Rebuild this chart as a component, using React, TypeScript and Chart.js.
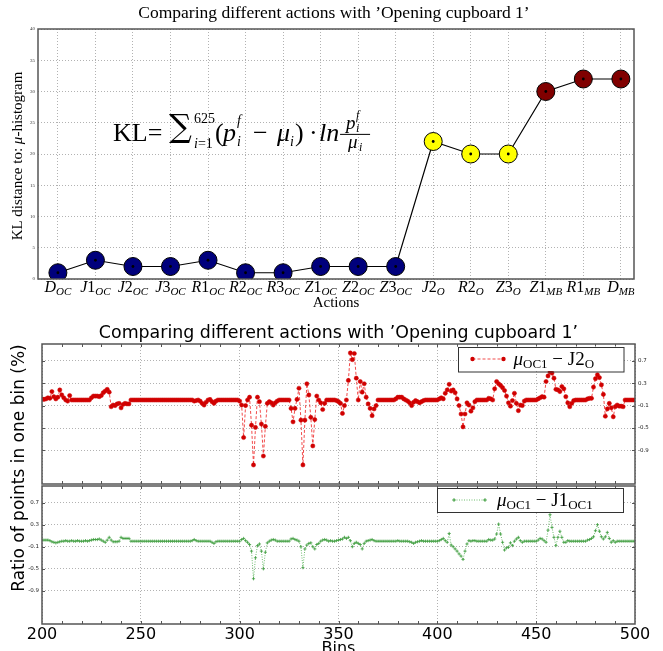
import React, { useEffect, useRef } from "react";
import { Chart, registerables } from "chart.js";
Chart.register(...registerables);

const SERIF = '"Liberation Serif", "DejaVu Serif", serif';
const SANS = '"DejaVu Sans", "Liberation Sans", sans-serif';

// ---------- top chart data ----------
const ACTION_NAMES = ["D", "J1", "J2", "J3", "R1", "R2", "R3", "Z1", "Z2", "Z3", "J2", "R2", "Z3", "Z1", "R1", "D"];
const ACTION_SUBS = ["OC", "OC", "OC", "OC", "OC", "OC", "OC", "OC", "OC", "OC", "O", "O", "O", "MB", "MB", "MB"];
const KL_VALUES = [1, 3, 2, 2, 3, 1, 1, 2, 2, 2, 22, 20, 20, 30, 32, 32];
const GROUP_COLORS: Record<string, string> = { OC: "#00007c", O: "#ffff00", MB: "#800000" };
const KL_MIN = 0;
const KL_MAX = 40;
const KL_STEP = 5;

// ---------- bottom charts data (bins 200..500) ----------
const BIN_FIRST = 200;
const BIN_TICKS = [200, 250, 300, 350, 400, 450, 500];
const RATIO_TICKS = [0.7, 0.3, -0.1, -0.5, -0.9];
const RATIO_MIN = -1.5;
const RATIO_MAX = 1.0;

const DIFF_J2O = [
  0.02, 0.01, 0.02, 0.04, 0.03, 0.15, 0.06, 0.02, 0.05, 0.18,
  0.09, 0.04, 0.0, -0.02, 0.08, 0.0, 0.0, 0.0, 0.0, 0.0,
  0.0, 0.0, 0.0, 0.0, 0.0, 0.04, 0.07, 0.07, 0.07, 0.06,
  0.08, 0.13, 0.16, 0.19, 0.14, -0.12, -0.09, -0.1, -0.07, -0.06,
  -0.14, -0.08, -0.06, -0.07, -0.07, 0.0, 0.0, 0.0, 0.0, 0.0,
  0.0, 0.0, 0.0, 0.0, 0.0, 0.0, 0.0, 0.0, 0.0, 0.0,
  0.0, 0.0, 0.0, 0.0, 0.0, 0.0, 0.0, 0.0, 0.0, 0.0,
  0.0, 0.0, 0.0, 0.0, 0.0, 0.0, 0.0, -0.02, -0.01, 0.0,
  -0.02, -0.06, -0.09, -0.04, 0.0, 0.01, -0.03, -0.06, -0.02, 0.0,
  0.0, 0.0, 0.0, 0.0, 0.0, 0.0, 0.0, 0.0, 0.0, 0.0,
  -0.02, -0.09, -0.67, -0.1, 0.0, 0.05, -0.45, -1.16, -0.49, 0.05,
  -0.03, -0.43, -1.0, -0.47, -0.06, -0.03, -0.05, -0.09, -0.05, -0.02,
  0.0, 0.0, 0.0, 0.0, 0.0, 0.0, -0.15, -0.39, -0.15, 0.01,
  0.21, -0.36, -1.16, -0.36, 0.29, 0.09, -0.31, -0.82, -0.35, 0.07,
  0.0, -0.05, -0.17, -0.06, 0.0, 0.0, 0.0, 0.0, 0.0, -0.01,
  -0.03, -0.06, -0.24, -0.1, 0.0, 0.35, 0.84, 0.72, 0.83, 0.39,
  0.0, 0.33, 0.14, 0.29, 0.05, -0.07, -0.15, -0.28, -0.16, -0.1,
  0.0, 0.0, 0.0, 0.0, 0.0, 0.0, 0.0, 0.0, 0.0, 0.02,
  0.05, 0.05, 0.05, 0.02, 0.0, -0.02, -0.05, -0.1, -0.04, -0.01,
  -0.03, -0.05, -0.03, -0.01, 0.0, 0.0, 0.0, 0.0, 0.0, 0.0,
  0.0, 0.02, 0.04, 0.02, 0.12, 0.18, 0.28, 0.16, 0.18, 0.13,
  0.02, -0.1, -0.25, -0.48, -0.25, -0.05, -0.09, -0.2, -0.14, -0.03,
  0.0, 0.0, 0.0, 0.0, 0.0, 0.0, 0.03, 0.02, 0.0, 0.2,
  0.33, 0.29, 0.26, 0.22, 0.17, 0.07, -0.05, -0.11, -0.01, 0.12,
  -0.06, -0.19, -0.09, -0.1, -0.02, 0.0, 0.0, 0.0, 0.0, 0.0,
  0.0, 0.02, 0.04, 0.06, 0.05, 0.33, 0.43, 0.5, 0.48, 0.39,
  0.19, 0.18, 0.15, 0.24, 0.2, 0.06, -0.05, -0.12, -0.06, -0.01,
  0.0, 0.0, 0.0, 0.0, 0.0, 0.0, 0.02, 0.03, 0.03, 0.23,
  0.38, 0.45, 0.4, 0.27, 0.1, -0.29, -0.16, -0.06, -0.14, -0.3,
  -0.12, -0.09, -0.11, -0.11, -0.12, 0.0, 0.0, 0.0, 0.0, 0.0,
  0.0,
];

const DIFF_J1OC = [
  0.02, 0.02, 0.02, 0.02, 0.01, -0.01, -0.02, -0.03, -0.02, -0.01,
  0.0, 0.0, 0.01, 0.0, 0.0, 0.01, 0.0, 0.0, 0.01, 0.0,
  0.0, 0.0, 0.01, 0.0, 0.01, 0.02, 0.03, 0.03, 0.03, 0.04,
  0.02, 0.0, -0.02, 0.02, 0.07, 0.02, -0.01, -0.01, -0.01, 0.0,
  0.07, 0.05, 0.05, 0.05, 0.05, 0.0, 0.0, 0.0, 0.0, 0.0,
  0.0, 0.0, 0.0, 0.0, 0.0, 0.0, 0.0, 0.0, 0.0, 0.0,
  0.0, 0.0, 0.0, 0.0, 0.0, 0.0, 0.0, 0.0, 0.0, 0.0,
  0.0, 0.0, 0.0, 0.0, 0.0, 0.0, 0.01, 0.03, 0.01, 0.0,
  0.0, 0.0, 0.0, 0.0, 0.0, 0.0, -0.02, -0.04, -0.01, 0.0,
  0.0, 0.0, 0.0, 0.0, 0.0, 0.0, 0.0, 0.0, 0.0, 0.0,
  0.0, 0.03, 0.05, 0.01, -0.02, -0.06, -0.18, -0.68, -0.3, -0.08,
  -0.05, -0.18, -0.5, -0.2, -0.03, 0.0, 0.02, 0.03, 0.02, 0.0,
  0.0, 0.0, 0.0, 0.0, 0.0, 0.0, 0.04, 0.05, 0.03, 0.02,
  0.0, -0.1, -0.48, -0.14, -0.07, -0.04, -0.03, -0.1, -0.14, -0.06,
  -0.04, 0.0, 0.02, 0.03, 0.02, 0.0, 0.01, 0.0, 0.0, 0.01,
  0.02, 0.03, 0.04, 0.07, 0.05, 0.07, 0.01, -0.1, -0.04, -0.02,
  -0.04, -0.06, -0.14, -0.04, 0.0, 0.01, 0.02, 0.03, 0.01, 0.0,
  0.0, 0.0, 0.0, 0.0, 0.0, 0.0, 0.0, 0.0, 0.0, 0.0,
  0.01, 0.0, 0.0, 0.0, 0.0, 0.0, -0.01, -0.02, -0.04, -0.02,
  -0.01, 0.0, 0.01, 0.0, 0.0, 0.0, 0.0, 0.0, 0.0, 0.0,
  0.0, 0.01, 0.03, 0.05, 0.01, -0.02, 0.14, -0.07, -0.1, -0.14,
  -0.18, -0.23, -0.27, -0.33, -0.18, -0.05, 0.01, 0.0, 0.01, 0.01,
  0.0, 0.0, 0.0, 0.0, 0.0, 0.0, 0.03, 0.02, 0.02, 0.04,
  0.13, 0.31, 0.13, -0.02, -0.16, -0.12, -0.11, -0.03, -0.08, 0.0,
  0.04, 0.07, 0.01, -0.02, 0.0, 0.0, 0.0, 0.0, 0.0, 0.0,
  0.0, 0.02, 0.05, 0.04, 0.01, -0.02, 0.2, 0.48, 0.25, 0.07,
  -0.08, 0.07, 0.18, 0.07, -0.02, -0.02, 0.01, 0.0, 0.0, 0.0,
  0.0, 0.0, 0.0, 0.0, 0.0, 0.0, 0.02, 0.03, 0.05, 0.08,
  0.19, 0.3, 0.18, 0.08, 0.04, 0.08, 0.16, 0.05, -0.02, 0.01,
  -0.02, 0.0, 0.0, 0.0, 0.0, 0.0, 0.0, 0.0, 0.0, 0.0,
  0.0,
];

const TITLE = "Comparing different actions with \u2019Opening cupboard 1\u2019";
const RED_LINE = "rgba(238,30,30,0.8)";
const RED_DOT = "#d00000";
const GREEN_LINE = "rgba(60,165,60,0.75)";
const GREEN_DOT = "#3c9c3c";
const GRID = "rgba(0,0,0,0.3)";
const FRAME = "#555";

type Run = { t: string; f: string; dy?: number };

function runsWidth(ctx: CanvasRenderingContext2D, runs: Run[]) {
  let w = 0;
  for (const r of runs) {
    ctx.font = r.f;
    w += ctx.measureText(r.t).width;
  }
  return w;
}
function drawRuns(ctx: CanvasRenderingContext2D, x: number, y: number, runs: Run[]) {
  let cx = x;
  for (const r of runs) {
    ctx.font = r.f;
    ctx.fillText(r.t, cx, y + (r.dy || 0));
    cx += ctx.measureText(r.t).width;
  }
  return cx;
}
function put(ctx: CanvasRenderingContext2D, t: string, f: string, x: number, y: number, align: CanvasTextAlign = "left") {
  ctx.font = f;
  ctx.textAlign = align;
  ctx.fillText(t, x, y);
  ctx.textAlign = "left";
}
function frame(ctx: CanvasRenderingContext2D, a: any) {
  ctx.save();
  ctx.strokeStyle = FRAME;
  ctx.lineWidth = 1.5;
  ctx.strokeRect(a.left, a.top, a.right - a.left, a.bottom - a.top);
  ctx.restore();
}

function drawFormula(ctx: CanvasRenderingContext2D, x0: number, b: number) {
  const big = `26px ${SERIF}`;
  const bigI = `italic 26px ${SERIF}`;
  const sm = `14px ${SERIF}`;
  const smI = `italic 14px ${SERIF}`;
  ctx.fillStyle = "#000";
  ctx.textBaseline = "alphabetic";
  put(ctx, "KL=", big, x0, b);
  put(ctx, "\u2211", `32px "DejaVu Serif", serif`, x0 + 56, b - 4);
  put(ctx, "625", sm, x0 + 81, b - 18);
  drawRuns(ctx, x0 + 81, b + 7, [{ t: "i", f: smI }, { t: "=1", f: sm }]);
  put(ctx, "(", big, x0 + 102, b);
  put(ctx, "p", bigI, x0 + 110, b);
  put(ctx, "f", smI, x0 + 124, b - 16);
  put(ctx, "i", smI, x0 + 124, b + 5);
  put(ctx, "\u2212", big, x0 + 140, b);
  put(ctx, "\u03bc", bigI, x0 + 164, b);
  put(ctx, "i", smI, x0 + 177, b + 5);
  put(ctx, ")", big, x0 + 182, b);
  put(ctx, "\u00b7", big, x0 + 196, b);
  put(ctx, "ln", bigI, x0 + 206, b);
  // fraction
  const fx = x0 + 227;
  const fw = 30;
  const numI = `italic 19px ${SERIF}`;
  const tiny = `italic 12px ${SERIF}`;
  put(ctx, "p", numI, fx + 6, b - 12);
  put(ctx, "f", tiny, fx + 16, b - 22);
  put(ctx, "i", tiny, fx + 16, b - 9);
  ctx.save();
  ctx.strokeStyle = "#000";
  ctx.lineWidth = 1;
  ctx.beginPath();
  ctx.moveTo(fx, b - 6.5);
  ctx.lineTo(fx + fw, b - 6.5);
  ctx.stroke();
  ctx.restore();
  put(ctx, "\u03bc", numI, fx + 8, b + 7);
  put(ctx, "i", tiny, fx + 19, b + 10);
}

const FORMULA_AT = { x: 1.47, y: 22.1 };

function makeTop(canvas: HTMLCanvasElement) {
  const pts = KL_VALUES.map((v, i) => ({ x: i, y: v }));
  const deco = {
    id: "topDeco",
    afterDraw(chart: any) {
      const { ctx, chartArea: a, scales } = chart;
      const xs = scales.x;
      const ys = scales.y;
      frame(ctx, a);
      ctx.save();
      ctx.fillStyle = "#000";
      ctx.textBaseline = "alphabetic";
      put(ctx, TITLE, `17.5px ${SERIF}`, (a.left + a.right) / 2 - 2, 18, "center");
      // x tick labels with subscripts
      ACTION_NAMES.forEach((name, i) => {
        const runs: Run[] = [];
        for (const ch of name) runs.push({ t: ch, f: /\d/.test(ch) ? `16px ${SERIF}` : `italic 16px ${SERIF}` });
        runs.push({ t: ACTION_SUBS[i], f: `italic 11px ${SERIF}`, dy: 3 });
        const w = runsWidth(ctx, runs);
        drawRuns(ctx, xs.getPixelForValue(i) - w / 2, 292, runs);
      });
      put(ctx, "Actions", `15px ${SERIF}`, (a.left + a.right) / 2, 307, "center");
      // y title
      ctx.save();
      ctx.translate(22, (a.top + a.bottom) / 2 + 2);
      ctx.rotate(-Math.PI / 2);
      const yr: Run[] = [
        { t: "KL distance to: ", f: `15px ${SERIF}` },
        { t: "\u03bc", f: `italic 15px ${SERIF}` },
        { t: "-histogram", f: `15px ${SERIF}` },
      ];
      const yw = runsWidth(ctx, yr);
      drawRuns(ctx, -yw / 2, 0, yr);
      ctx.restore();
      drawFormula(ctx, xs.getPixelForValue(FORMULA_AT.x), ys.getPixelForValue(FORMULA_AT.y));
      ctx.restore();
    },
  };
  return new Chart(canvas, {
    type: "line",
    data: {
      datasets: [
        { data: pts, showLine: false, pointRadius: 1.4, pointBackgroundColor: "#000", pointBorderWidth: 0, order: 0 } as any,
        {
          data: pts,
          showLine: false,
          pointRadius: 9,
          pointBackgroundColor: ACTION_SUBS.map((s) => GROUP_COLORS[s]),
          pointBorderColor: "#000",
          pointBorderWidth: 1,
          order: 1,
        },
        { data: pts, borderColor: "#000", borderWidth: 1.2, pointRadius: 0, tension: 0, order: 2 },
      ],
    },
    options: {
      responsive: false,
      animation: false,
      events: [],
      layout: { autoPadding: false, padding: { left: 0, right: 29, top: 29, bottom: 342 } },
      plugins: { legend: { display: false }, tooltip: { enabled: false }, title: { display: false } },
      scales: {
        x: {
          type: "linear",
          min: -0.53,
          max: 15.35,
          afterBuildTicks: (s: any) => {
            s.ticks = ACTION_NAMES.map((_, i) => ({ value: i }));
          },
          afterFit: (s: any) => {
            s.height = 30;
          },
          ticks: { callback: () => "" },
          grid: { color: GRID, drawTicks: false },
          border: { display: false, dash: [1, 2] },
        },
        y: {
          min: KL_MIN,
          max: KL_MAX,
          ticks: { stepSize: KL_STEP, font: { size: 5, family: SERIF }, color: "#333", padding: 3 },
          afterFit: (s: any) => {
            s.width = 38;
          },
          grid: { color: GRID, drawTicks: false },
          border: { display: false, dash: [1, 2] },
        },
      },
    } as any,
    plugins: [deco],
  });
}

function minorTicks(ctx: CanvasRenderingContext2D, chart: any) {
  const a = chart.chartArea;
  const xs = chart.scales.x;
  const ys = chart.scales.y;
  ctx.save();
  ctx.strokeStyle = FRAME;
  ctx.lineWidth = 1;
  ctx.beginPath();
  for (let v = BIN_TICKS[0] + 10; v < BIN_TICKS[BIN_TICKS.length - 1]; v += 10) {
    const px = Math.round(xs.getPixelForValue(v)) + 0.5;
    ctx.moveTo(px, a.top);
    ctx.lineTo(px, a.top + 3);
    ctx.moveTo(px, a.bottom);
    ctx.lineTo(px, a.bottom - 3);
  }
  for (const v of RATIO_TICKS) {
    const py = Math.round(ys.getPixelForValue(v)) + 0.5;
    ctx.moveTo(a.left, py);
    ctx.lineTo(a.left + 3, py);
    ctx.moveTo(a.right, py);
    ctx.lineTo(a.right - 3, py);
  }
  ctx.stroke();
  ctx.restore();
}

function legendBox(ctx: CanvasRenderingContext2D, x: number, y: number, w: number, h: number) {
  ctx.save();
  ctx.fillStyle = "#fff";
  ctx.fillRect(x, y, w, h);
  ctx.strokeStyle = "#333";
  ctx.lineWidth = 1;
  ctx.strokeRect(Math.round(x) + 0.5, Math.round(y) + 0.5, w, h);
  ctx.restore();
}

function diffScales(showX: boolean, yPos: "left" | "right", yWidth: number, xHeight: number) {
  return {
    x: {
      type: "linear",
      min: BIN_TICKS[0],
      max: BIN_TICKS[BIN_TICKS.length - 1],
      afterBuildTicks: (s: any) => {
        s.ticks = BIN_TICKS.map((v) => ({ value: v }));
      },
      afterFit: (s: any) => {
        s.height = xHeight;
      },
      ticks: { display: showX, font: { size: 16, family: SANS }, color: "#000", padding: 1, maxRotation: 0 },
      grid: { color: GRID, drawTicks: false },
      border: { display: false, dash: [1, 2] },
    },
    y: {
      position: yPos,
      min: RATIO_MIN,
      max: RATIO_MAX,
      afterBuildTicks: (s: any) => {
        s.ticks = RATIO_TICKS.map((v) => ({ value: v }));
      },
      afterFit: (s: any) => {
        s.width = yWidth;
      },
      ticks: {
        font: { size: 5.5, family: SANS },
        color: "#222",
        padding: 3,
        callback: (v: any) => Number(v).toFixed(1),
      },
      grid: { color: GRID, drawTicks: false },
      border: { display: false, dash: [1, 2] },
    },
  };
}

function makeMid(canvas: HTMLCanvasElement) {
  const deco = {
    id: "midDeco",
    afterDraw(chart: any) {
      const { ctx, chartArea: a } = chart;
      minorTicks(ctx, chart);
      frame(ctx, a);
      ctx.save();
      ctx.fillStyle = "#000";
      ctx.textBaseline = "alphabetic";
      put(ctx, TITLE, `17.4px ${SANS}`, (a.left + a.right) / 2, 338, "center");
      // legend
      const bx = a.right - 12 - 165.5;
      const by = a.top + 2.5;
      legendBox(ctx, bx, by, 165.5, 24.5);
      const ly = by + 12.5;
      ctx.save();
      ctx.strokeStyle = RED_LINE;
      ctx.lineWidth = 1;
      ctx.setLineDash([3, 2]);
      ctx.beginPath();
      ctx.moveTo(bx + 15, ly);
      ctx.lineTo(bx + 46, ly);
      ctx.stroke();
      ctx.fillStyle = RED_DOT;
      for (const px of [bx + 15, bx + 46]) {
        ctx.beginPath();
        ctx.arc(px, ly, 2.2, 0, Math.PI * 2);
        ctx.fill();
      }
      ctx.restore();
      ctx.fillStyle = "#000";
      drawRuns(ctx, bx + 56, by + 18.5, [
        { t: "\u03bc", f: `italic 19px ${SERIF}` },
        { t: "OC1", f: `13px ${SERIF}`, dy: 2.5 },
        { t: " \u2212 ", f: `19px ${SERIF}` },
        { t: "J2", f: `19px ${SERIF}` },
        { t: "O", f: `13px ${SERIF}`, dy: 2.5 },
      ]);
      ctx.restore();
    },
  };
  return new Chart(canvas, {
    type: "line",
    data: {
      datasets: [
        {
          data: DIFF_J2O.map((v, i) => ({ x: BIN_FIRST + i, y: v })),
          borderColor: RED_LINE,
          borderWidth: 1,
          borderDash: [3, 2],
          pointRadius: 2.1,
          pointBackgroundColor: RED_DOT,
          pointBorderColor: RED_DOT,
          pointBorderWidth: 0.5,
          tension: 0,
        },
      ],
    },
    options: {
      responsive: false,
      animation: false,
      events: [],
      layout: { autoPadding: false, padding: { left: 42, right: 8, top: 344, bottom: 167 } },
      plugins: { legend: { display: false }, tooltip: { enabled: false } },
      scales: diffScales(false, "right", 20, 0),
    } as any,
    plugins: [deco],
  });
}

function makeLow(canvas: HTMLCanvasElement) {
  const deco = {
    id: "lowDeco",
    afterDraw(chart: any) {
      const { ctx, chartArea: a } = chart;
      minorTicks(ctx, chart);
      frame(ctx, a);
      ctx.save();
      ctx.fillStyle = "#000";
      ctx.textBaseline = "alphabetic";
      put(ctx, "Bins", `16px ${SANS}`, (a.left + a.right) / 2, 652.5, "center");
      ctx.save();
      ctx.translate(23.5, 468);
      ctx.rotate(-Math.PI / 2);
      put(ctx, "Ratio of points in one bin (%)", `17px ${SANS}`, 0, 0, "center");
      ctx.restore();
      // legend
      const bx = a.right - 12 - 186;
      const by = a.top + 2;
      legendBox(ctx, bx, by, 186, 24);
      const ly = by + 12;
      ctx.save();
      ctx.strokeStyle = GREEN_LINE;
      ctx.lineWidth = 1;
      ctx.setLineDash([1, 1.5]);
      ctx.beginPath();
      ctx.moveTo(bx + 17, ly);
      ctx.lineTo(bx + 48, ly);
      ctx.stroke();
      ctx.setLineDash([]);
      ctx.strokeStyle = GREEN_DOT;
      ctx.beginPath();
      for (const px of [bx + 17, bx + 48]) {
        ctx.moveTo(px - 1.8, ly);
        ctx.lineTo(px + 1.8, ly);
        ctx.moveTo(px, ly - 1.8);
        ctx.lineTo(px, ly + 1.8);
      }
      ctx.stroke();
      ctx.restore();
      ctx.fillStyle = "#000";
      drawRuns(ctx, bx + 60, by + 18, [
        { t: "\u03bc", f: `italic 19px ${SERIF}` },
        { t: "OC1", f: `13px ${SERIF}`, dy: 2.5 },
        { t: " \u2212 ", f: `19px ${SERIF}` },
        { t: "J1", f: `19px ${SERIF}` },
        { t: "OC1", f: `13px ${SERIF}`, dy: 2.5 },
      ]);
      ctx.restore();
    },
  };
  return new Chart(canvas, {
    type: "line",
    data: {
      datasets: [
        {
          data: DIFF_J1OC.map((v, i) => ({ x: BIN_FIRST + i, y: v })),
          borderColor: GREEN_LINE,
          borderWidth: 1,
          borderDash: [1, 1.5],
          pointStyle: "cross",
          pointRadius: 1.6,
          pointBorderColor: GREEN_DOT,
          pointBorderWidth: 0.8,
          tension: 0,
        },
      ],
    },
    options: {
      responsive: false,
      animation: false,
      events: [],
      layout: { autoPadding: false, padding: { left: 0, right: 28, top: 486, bottom: 0 } },
      plugins: { legend: { display: false }, tooltip: { enabled: false } },
      scales: diffScales(true, "left", 42, 27),
    } as any,
    plugins: [deco],
  });
}

export default function App() {
  const topRef = useRef<HTMLCanvasElement>(null);
  const midRef = useRef<HTMLCanvasElement>(null);
  const lowRef = useRef<HTMLCanvasElement>(null);
  useEffect(() => {
    const charts = [makeTop(topRef.current!), makeMid(midRef.current!), makeLow(lowRef.current!)];
    return () => charts.forEach((c) => c.destroy());
  }, []);
  const cs: React.CSSProperties = { position: "absolute", left: 0, top: 0, width: 663, height: 651 };
  return (
    <div style={{ position: "absolute", left: 0, top: 0, width: 663, height: 651, background: "#fff", overflow: "hidden" }}>
      <canvas ref={topRef} width={663} height={651} style={cs} />
      <canvas ref={midRef} width={663} height={651} style={cs} />
      <canvas ref={lowRef} width={663} height={651} style={cs} />
    </div>
  );
}
